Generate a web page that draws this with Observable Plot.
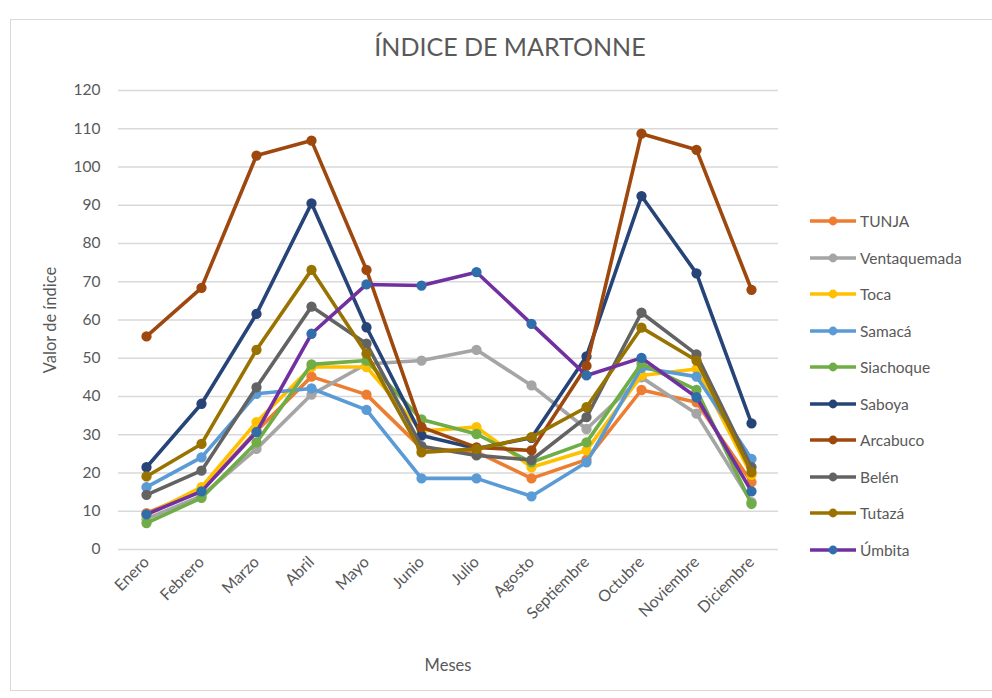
<!DOCTYPE html>
<html>
<head>
<meta charset="utf-8">
<script src="https://cdn.jsdelivr.net/npm/d3@7"></script>
<script src="https://cdn.jsdelivr.net/npm/@observablehq/plot@0.6"></script>
<style>
  body { margin: 0; background: #fff; font-family: Lato, "Open Sans", sans-serif; }
  #wrap { position: relative; width: 992px; height: 698px; overflow: hidden; background: #fff; }
  #frame { position: absolute; left: 10px; top: 19px; width: 992px; height: 672px; border: 1px solid #d9d9d9; box-sizing: border-box; }
  #title { position: absolute; left: 510px; top: 46px; transform: translate(-50%, -50%); font-size: 25px; color: #595959; white-space: nowrap; }
  #ylab { position: absolute; left: 50px; top: 320px; transform: translate(-50%, -50%) rotate(-90deg); font-size: 16.5px; color: #595959; white-space: nowrap; }
  #xlab { position: absolute; left: 448px; top: 665px; transform: translate(-50%, -50%); font-size: 16.5px; color: #595959; }
  #chart { position: absolute; left: 0; top: 0; }
  #legend { position: absolute; left: 808px; top: 203px; }
  .row { display: flex; align-items: center; height: 36.5px; font-size: 15.5px; color: #595959; }
  .row svg { margin-right: 2px; }
</style>
</head>
<body>
<div id="wrap">
  <div id="frame"></div>
  <div id="chart"></div>
  <div id="title">ÍNDICE DE MARTONNE</div>
  <div id="ylab">Valor de índice</div>
  <div id="xlab">Meses</div>
  <div id="legend"></div>
</div>
<script>
const months = ["Enero","Febrero","Marzo","Abril","Mayo","Junio","Julio","Agosto","Septiembre","Octubre","Noviembre","Diciembre"];
const yTicks = [0,10,20,30,40,50,60,70,80,90,100,110,120];

const seriesNames = ["TUNJA","Ventaquemada","Toca","Samacá","Siachoque","Saboya","Arcabuco","Belén","Tutazá","Úmbita"];
const lineColors  = ["#ED7D31","#A5A5A5","#FFC000","#5B9BD5","#70AD47","#264478","#9E480E","#636363","#997300","#7030A0"];
const markerColors= ["#ED7D31","#A5A5A5","#FFC000","#5B9BD5","#70AD47","#264478","#9E480E","#636363","#997300","#2F6EAA"];

const tunja        = [9.5, 15.5, 31, 45.2, 40.5, 26.5, 25.5, 18.6, 23.5, 41.7, 38.5, 17.6];
const ventaquemada = [8, 14, 26.3, 40.5, 48.5, 49.4, 52.2, 42.9, 31.5, 45, 35.5, 12.4];
const toca         = [9, 16.3, 33.3, 47.7, 47.7, 31, 32, 21.5, 25.9, 45.5, 47.2, 19.5];
const samaca       = [16.3, 24.1, 40.7, 42.1, 36.5, 18.6, 18.6, 13.9, 22.8, 47.5, 45.2, 23.7];
const siachoque    = [6.9, 13.5, 28, 48.4, 49.4, 34, 30.2, 22.8, 28, 48.6, 41.7, 11.9];
const saboya       = [21.5, 38.1, 61.6, 90.5, 58.1, 29.8, 26.4, 29.2, 50.5, 92.4, 72.2, 33];
const arcabuco     = [55.7, 68.4, 103, 106.9, 73.1, 32, 26.7, 25.9, 48, 108.7, 104.5, 67.9];
const belen        = [14.3, 20.6, 42.4, 63.5, 53.8, 27, 24.6, 23.4, 34.6, 61.9, 51, 21.5];
const tutaza       = [19.1, 27.6, 52.2, 73.1, 51.2, 25.4, 26.3, 29.4, 37.2, 58, 49.4, 20.2];
const umbita       = [9.2, 15.2, 30.7, 56.4, 69.3, 69, 72.5, 59, 45.5, 50.1, 39.8, 15.2];

const seriesValues = [tunja, ventaquemada, toca, samaca, siachoque, saboya, arcabuco, belen, tutaza, umbita];

const series = seriesNames.map((name, i) => ({
  name, line: lineColors[i], marker: markerColors[i],
  data: months.map((m, j) => ({ month: m, value: seriesValues[i][j], serie: name }))
}));

const chart = Plot.plot({
  width: 992, height: 698,
  marginLeft: 118, marginRight: 214, marginTop: 90, marginBottom: 149,
  style: { fontFamily: "Lato, 'Open Sans', sans-serif", fontSize: "14px", color: "#595959", background: "transparent", overflow: "visible" },
  x: { type: "point", domain: months, padding: 0.5, label: null },
  y: { domain: [0, 120], label: null },
  marks: [
    Plot.gridY(yTicks, { stroke: "#d9d9d9", strokeOpacity: 1, strokeWidth: 1.3 }),
    Plot.axisY(yTicks, { tickSize: 0, tickPadding: 18, label: null, fontSize: 15.5, fill: "#595959" }),
    Plot.axisX({ tickSize: 0, tickPadding: 10, tickRotate: -45, label: null, fontSize: 16, fill: "#595959" }),
    ...series.flatMap(s => [
      Plot.line(s.data, { x: "month", y: "value", stroke: s.line, strokeWidth: 3.6, strokeLinejoin: "round" }),
      Plot.dot(s.data, { x: "month", y: "value", fill: s.marker, stroke: s.marker, r: 4.4 })
    ])
  ]
});
document.getElementById("chart").appendChild(chart);

const legend = d3.select("#legend");
series.forEach(s => {
  const row = legend.append("div").attr("class", "row");
  const svg = row.append("svg").attr("width", 50).attr("height", 14);
  svg.append("line").attr("x1", 2).attr("x2", 48).attr("y1", 7).attr("y2", 7)
    .attr("stroke", s.line).attr("stroke-width", 3.6);
  svg.append("circle").attr("cx", 25).attr("cy", 7).attr("r", 4.4).attr("fill", s.marker);
  row.append("span").text(s.name);
});
</script>
</body>
</html>
